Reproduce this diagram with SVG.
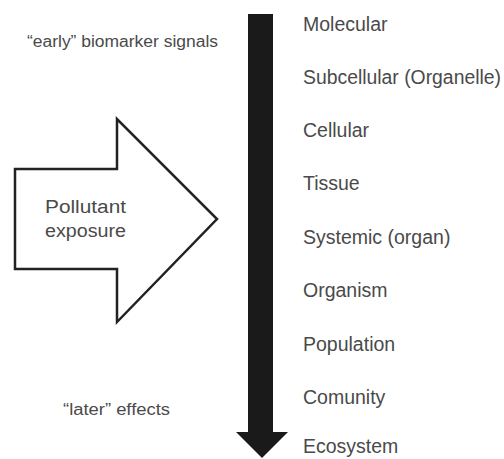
<svg xmlns="http://www.w3.org/2000/svg" width="504" height="459" viewBox="0 0 504 459">
<style>
.lbl{font-family:"Liberation Sans",Arial,sans-serif;font-size:19.5px;fill:#4a4a4a}
.note{font-family:"Liberation Sans",Arial,sans-serif;font-size:16px;fill:#4a4a4a}
.big{font-family:"Liberation Sans",Arial,sans-serif;font-size:18px;fill:#4a4a4a}
</style>
<rect width="504" height="459" fill="#ffffff"/>
<g id="connectors">
<path id="scale-arrow" d="M248,14 H273 V432 H288 L262,458 L236,432 H248 Z" fill="#1a1a1a"/>
</g>
<g id="pollutant-exposure">
<polygon points="15,169 117,169 117,119 217,219 117,322 117,269 15,269" fill="#ffffff" stroke="#222222" stroke-width="2.5" stroke-linejoin="miter"/>
<text class="big" x="45" y="213" textLength="81" lengthAdjust="spacingAndGlyphs">Pollutant</text>
<text class="big" x="45" y="237" textLength="81" lengthAdjust="spacingAndGlyphs">exposure</text>
</g>
<g id="early-note"><text class="note" x="27" y="47" textLength="191" lengthAdjust="spacingAndGlyphs">“early” biomarker signals</text></g>
<g id="later-note"><text class="note" x="63" y="415" textLength="107" lengthAdjust="spacingAndGlyphs">“later” effects</text></g>
<g id="molecular"><text class="lbl" x="303" y="31">Molecular</text></g>
<g id="subcellular"><text class="lbl" x="303" y="84" textLength="198" lengthAdjust="spacingAndGlyphs">Subcellular (Organelle)</text></g>
<g id="cellular"><text class="lbl" x="303" y="137">Cellular</text></g>
<g id="tissue"><text class="lbl" x="303" y="190">Tissue</text></g>
<g id="systemic"><text class="lbl" x="303" y="244">Systemic (organ)</text></g>
<g id="organism"><text class="lbl" x="303" y="297">Organism</text></g>
<g id="population"><text class="lbl" x="303" y="351">Population</text></g>
<g id="comunity"><text class="lbl" x="303" y="404">Comunity</text></g>
<g id="ecosystem"><text class="lbl" x="303" y="453">Ecosystem</text></g>
</svg>
